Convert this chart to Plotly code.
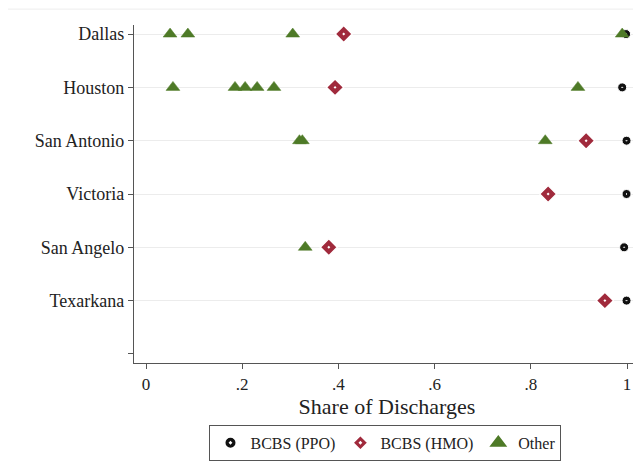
import plotly.graph_objects as go

cities = ["Dallas", "Houston", "San Antonio", "Victoria", "San Angelo", "Texarkana"]

ppo_city = ["Dallas", "Houston", "San Antonio", "Victoria", "San Angelo", "Texarkana"]
ppo_val = [0.998, 0.990, 0.999, 0.999, 0.994, 0.999]

hmo_city = ["Dallas", "Houston", "San Antonio", "Victoria", "San Angelo", "Texarkana"]
hmo_val = [0.411, 0.393, 0.915, 0.836, 0.380, 0.954]

other_city = ["Dallas", "Dallas", "Dallas", "Dallas",
              "Houston", "Houston", "Houston", "Houston", "Houston", "Houston",
              "San Antonio", "San Antonio", "San Antonio",
              "San Angelo"]
other_val = [0.050, 0.087, 0.305, 0.990,
             0.056, 0.185, 0.206, 0.231, 0.266, 0.898,
             0.319, 0.325, 0.830,
             0.331]

x_ticks = [0, 0.2, 0.4, 0.6, 0.8, 1]
x_labels = ["0", ".2", ".4", ".6", ".8", "1"]

pos = {c: i + 1 for i, c in enumerate(cities)}

FONT = "Liberation Serif"

fig = go.Figure()
fig.add_trace(go.Scatter(
    x=ppo_val, y=[pos[c] for c in ppo_city], mode="markers", name="BCBS (PPO)",
    marker=dict(symbol="circle-dot", size=9, color="#111111",
                line=dict(color="white", width=1))))
fig.add_trace(go.Scatter(
    x=hmo_val, y=[pos[c] for c in hmo_city], mode="markers", name="BCBS (HMO)",
    marker=dict(symbol="diamond-dot", size=13, color="#a02a3c",
                line=dict(color="white", width=1.4))))
fig.add_trace(go.Scatter(
    x=other_val, y=[pos[c] for c in other_city], mode="markers", name="Other",
    marker=dict(symbol="triangle-up", size=12, color="#4e7a27",
                line=dict(color="#4e7a27", width=0.5))))

fig.update_layout(
    width=633, height=464,
    margin=dict(l=126, r=1, t=17, b=109),
    paper_bgcolor="white", plot_bgcolor="white",
    font=dict(family=FONT, size=17, color="#222222"),
    showlegend=True,
    legend=dict(orientation="h", x=0.497, xanchor="center", y=-0.183, yanchor="top",
                bordercolor="#555555", borderwidth=1,
                font=dict(family=FONT, size=16, color="#222222"),
                itemsizing="constant", traceorder="normal"),
    shapes=[dict(type="line", xref="paper", yref="paper", x0=-0.25, x1=1,
                 y0=1.047, y1=1.047, line=dict(color="#eeeeee", width=1))],
)
fig.update_xaxes(
    range=[-0.025, 1.027], tickvals=x_ticks, ticktext=x_labels,
    showgrid=False, zeroline=False, showline=True, linecolor="#555555", linewidth=1.3,
    ticks="outside", ticklen=5, tickcolor="#555555",
    tickfont=dict(family=FONT, size=17),
    title=dict(text="Share of Discharges", font=dict(family=FONT, size=22), standoff=0),
)
fig.update_yaxes(
    range=[7.17, 0.83], tickvals=list(range(1, len(cities) + 1)), ticktext=cities,
    showgrid=True, gridcolor="#ececec", gridwidth=1,
    zeroline=False, showline=True, linecolor="#555555", linewidth=1.3,
    ticks="outside", ticklen=5, tickcolor="#555555",
    tickfont=dict(family=FONT, size=18),
    minor=dict(tickvals=[len(cities) + 1], ticks="outside", ticklen=5,
               tickcolor="#555555", showgrid=False),
)

fig.write_html("out.html")
